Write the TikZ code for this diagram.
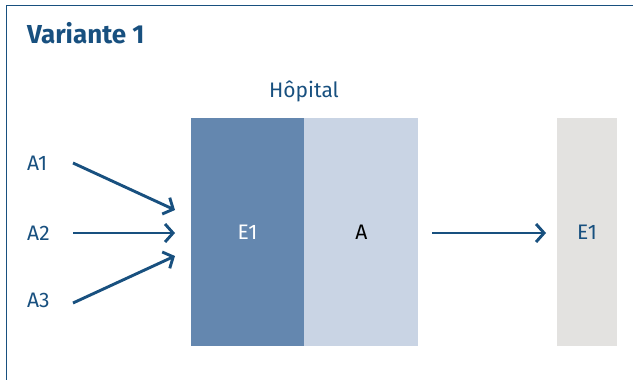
\documentclass[tikz,border=0pt]{standalone}
\usepackage{fontspec}
\setmainfont{Fira Sans}
\usetikzlibrary{arrows.meta}
\definecolor{navy}{HTML}{18507F}
\definecolor{boxdark}{HTML}{6487AF}
\definecolor{boxlight}{HTML}{C9D4E4}
\definecolor{boxgray}{HTML}{E3E2E0}
\tikzset{
  lbl/.style={text=navy, font=\fontsize{21}{24}\selectfont, inner sep=0pt},
  block/.style={minimum height=228pt, inner sep=0pt, font=\fontsize{21}{24}\selectfont},
  flow/.style={draw=navy, line width=2.9pt, -{Straight Barb[length=8pt, width=18pt, line width=2.9pt]}}
}
\begin{document}
\begin{tikzpicture}[x=1pt, y=-1pt]
  \useasboundingbox (0,0) rectangle (633,380);
  % frame: left and top rules
  \draw[navy, line width=1.6pt] (6.5,380) -- (6.5,5.5) -- (633,5.5);
  \node[anchor=base west, text=navy, font=\fontsize{26}{30}\bfseries\selectfont, inner sep=0pt] (title) at (27,43) {Variante 1};
  % hospital blocks
  \node[block, fill=boxdark, minimum width=113pt, text=white] (e1) at (247.5,232) {E1};
  \node[block, fill=boxlight, minimum width=114pt, text=black, anchor=west] (a) at (e1.east) {A};
  \node[lbl, anchor=base] (hop) at (304,97) {Hôpital};
  \node[block, fill=boxgray, minimum width=60pt, text=navy] (e1out) at (587,232) {E1};
  % incoming labels
  \node[lbl, anchor=west] (a1) at (27,163) {A1};
  \node[lbl, anchor=west] (a2) at (27,233) {A2};
  \node[lbl, anchor=west] (a3) at (27,300) {A3};
  \coordinate (s1) at (73,163);
  \coordinate (s2) at (73,233);
  \coordinate (s3) at (73,303);
  \coordinate (t1) at (175,210);
  \coordinate (t2) at (175,233);
  \coordinate (t3) at (175,256);
  \draw[flow] (s1) -- (t1);
  \draw[flow] (s2) -- (t2);
  \draw[flow] (s3) -- (t3);
  \coordinate (o1) at (432,233);
  \coordinate (o2) at (546,233);
  \draw[flow] (o1) -- (o2);
\end{tikzpicture}
\end{document}
